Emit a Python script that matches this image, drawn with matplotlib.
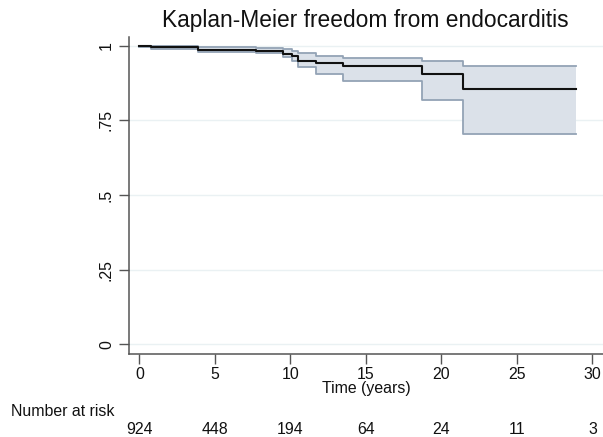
import matplotlib
matplotlib.use("Agg")
import matplotlib.pyplot as plt
import matplotlib.transforms as mtransforms

plt.rcParams['font.family'] = ['Liberation Sans', 'DejaVu Sans']

# Kaplan-Meier step estimates
times = [0, 0.75, 3.9, 7.7, 9.5, 10.1, 10.5, 11.7, 13.5, 18.7, 21.45, 28.9]
surv = [0.998, 0.995, 0.987, 0.981, 0.973, 0.967, 0.950, 0.942, 0.931, 0.905, 0.856, 0.856]
upper = [1.0, 1.0, 0.995, 0.992, 0.988, 0.983, 0.975, 0.966, 0.958, 0.949, 0.933, 0.933]
lower = [0.995, 0.989, 0.978, 0.974, 0.962, 0.948, 0.928, 0.905, 0.883, 0.818, 0.703, 0.703]

risk_times = [0, 5, 10, 15, 20, 25, 30]
at_risk = [924, 448, 194, 64, 24, 11, 3]

ytick_vals = [0, 0.25, 0.5, 0.75, 1]
ytick_labels = ['0', '.25', '.5', '.75', '1']

W, H = 603, 437
fig = plt.figure(figsize=(W / 100, H / 100), dpi=100)
ax = fig.add_axes([128.5 / W, (H - 354.3) / H, (W - 128.5) / W, (354.3 - 36.7) / H])

band = '#dbe1e9'
band_edge = '#93a3b5'
ax.fill_between(times, lower, upper, step='post', color=band, lw=0, zorder=1)
ax.step(times, upper, where='post', color=band_edge, lw=1.3, zorder=2)
ax.step(times, lower, where='post', color=band_edge, lw=1.3, zorder=2)
ax.step(times, surv, where='post', color='#111111', lw=1.5, zorder=3)

ax.set_xlim(-0.72, 30.7)
ax.set_ylim(-0.0335, 1.03)
ax.set_xticks(risk_times)
ax.set_yticks(ytick_vals)
ax.set_yticklabels(ytick_labels, rotation=90, va='center')
for y in ytick_vals:
    ax.axhline(y, color='#eaf1f3', lw=1, zorder=0)

for s in ['top', 'right']:
    ax.spines[s].set_visible(False)
for s in ['left', 'bottom']:
    ax.spines[s].set_color('#555555')
    ax.spines[s].set_linewidth(1.1)
fs = 11.4
ax.tick_params(axis='both', length=7, width=1, color='#555555', labelsize=fs,
               labelcolor='#111111', direction='out')
ax.tick_params(axis='x', pad=2)
ax.tick_params(axis='y', pad=3.5)

fig.text(365 / W, 1 - 21 / H, 'Kaplan-Meier freedom from endocarditis',
         ha='center', va='center', fontsize=16.4, color='#111111')

trans = mtransforms.blended_transform_factory(ax.transData, fig.transFigure)
ax.text(15, 1 - 388 / H, 'Time (years)', transform=trans, ha='center', va='center',
        fontsize=fs, color='#111111')
fig.text(11 / W, 1 - 412 / H, 'Number at risk', ha='left', va='center',
         fontsize=fs, color='#111111')
for t, n in zip(risk_times, at_risk):
    ax.text(t, 1 - 430 / H, str(n), transform=trans, ha='center', va='center',
            fontsize=fs, color='#111111')

fig.savefig('out.png', dpi=100)
